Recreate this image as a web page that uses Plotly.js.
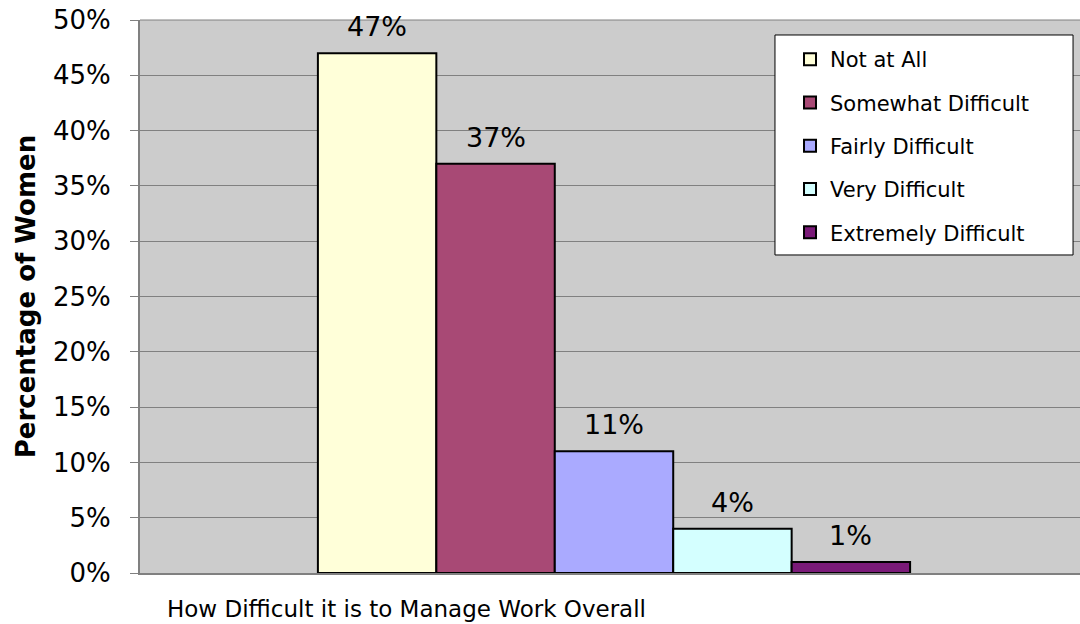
<!DOCTYPE html>
<html>
<head>
<meta charset="utf-8">
<script src="https://cdn.plot.ly/plotly-3.0.1.min.js"></script>
<style>html,body{margin:0;padding:0;background:#fff;}#chart{width:1080px;height:624px;}</style>
</head>
<body>
<div id="chart"></div>
<script>
const category = "How Difficult it is to Manage Work Overall";
const seriesNames = ["Not at All", "Somewhat Difficult", "Fairly Difficult", "Very Difficult", "Extremely Difficult"];
const seriesValues = [0.47, 0.37, 0.11, 0.04, 0.01];
const seriesColors = ["#FFFFD9", "#A84975", "#AAAAFF", "#D4FFFF", "#7A1A78"];
const yTickVals = [0, 0.05, 0.10, 0.15, 0.20, 0.25, 0.30, 0.35, 0.40, 0.45, 0.50];

const FONT = "DejaVu Sans, Verdana, sans-serif";

const traces = seriesNames.map((name, i) => ({
  type: "bar",
  name: name,
  x: [category],
  y: [seriesValues[i]],
  legendgroup: "g" + i,
  marker: { color: seriesColors[i], line: { color: "#000000", width: 2 } },
  hoverinfo: "none"
}));

const layout = {
  width: 1080,
  height: 624,
  margin: { l: 140, r: 0, t: 20, b: 51 },
  paper_bgcolor: "#FFFFFF",
  plot_bgcolor: "#CCCCCC",
  font: { family: FONT, color: "#000000" },
  barmode: "group",
  bargap: 0.37,
  bargroupgap: 0,
  showlegend: true,
  legend: {
    x: 0.6915, xanchor: "left",
    y: 0.9656, yanchor: "top",
    bgcolor: "rgba(0,0,0,0)",
    borderwidth: 0,
    font: { family: FONT, size: 21, color: "#000000" },
    traceorder: "grouped",
    tracegroupgap: 13,
    itemclick: false
  },
  xaxis: {
    range: [-0.50426, 0.49574],
    showticklabels: false,
    ticks: "",
    showgrid: false,
    zeroline: false,
    showline: true,
    linecolor: "#808080",
    linewidth: 2,
    mirror: false,
    fixedrange: true
  },
  yaxis: {
    range: [0, 0.5],
    tickvals: yTickVals,
    tickformat: ".0%",
    ticks: "outside",
    ticklen: 8,
    tickcolor: "#808080",
    tickwidth: 1,
    ticklabelstandoff: 14,
    tickfont: { family: FONT, size: 26, color: "#000000" },
    showgrid: true,
    gridcolor: "#808080",
    gridwidth: 1,
    zeroline: false,
    showline: true,
    linecolor: "#808080",
    linewidth: 2,
    fixedrange: true,
    title: { text: "<b>Percentage of Women</b>", font: { family: FONT, size: 26, color: "#000000" }, standoff: 10 }
  },
  shapes: [
    { type: "line", xref: "paper", yref: "paper", x0: 0, x1: 1, y0: 1, y1: 1, line: { color: "#808080", width: 1 } },
    { type: "rect", xref: "paper", yref: "paper", x0: 0.6755, x1: 0.9926, y0: 0.9729, y1: 0.5751,
      fillcolor: "#FFFFFF", line: { color: "#000000", width: 1 }, layer: "above" }
  ],
  annotations: [
    { xref: "paper", yref: "paper", x: 0.0266, y: -0.0651, xanchor: "left", yanchor: "middle",
      text: category, showarrow: false, font: { family: FONT, size: 23, color: "#000000" } }
  ]
};

const gd = document.getElementById("chart");
Plotly.newPlot(gd, traces, layout, { displayModeBar: false, staticPlot: true }).then(function () {
  // data labels placed at each bar's computed centre (from Plotly's own bar layout)
  const labels = gd.calcdata.map(function (cd, i) {
    const bar = cd[0];
    return {
      xref: "x", yref: "y",
      x: (bar.p0 + bar.p1) / 2,
      y: seriesValues[i],
      xanchor: "center", yanchor: "bottom",
      yshift: 9,
      text: Math.round(seriesValues[i] * 100) + "%",
      showarrow: false,
      font: { family: FONT, size: 27, color: "#000000" }
    };
  });
  return Plotly.relayout(gd, { annotations: layout.annotations.concat(labels) });
});
</script>
</body>
</html>
